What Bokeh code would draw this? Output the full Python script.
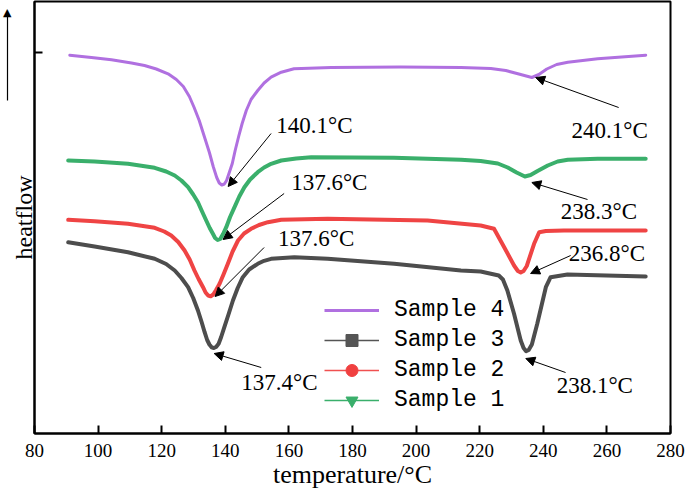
from bokeh.plotting import figure
from bokeh.models import (Range1d, FixedTicker, Legend, LegendItem, Label, Arrow,
                          NormalHead, LinearAxis)
from bokeh.embed import file_html
from bokeh.resources import INLINE

# ---------------- data (temperature in °C, heat flow in arbitrary units) ----------------
s4_t = [91.1, 97.9, 104.2, 110.5, 114.6, 118.3, 122.0, 124.6, 126.8, 128.7, 130.2, 131.8,
        133.4, 135.0, 136.2, 137.3, 138.1, 138.9, 139.7, 140.4, 141.2, 142.2, 143.1, 144.2,
        145.3, 146.6, 148.1, 150.2, 152.2, 154.4, 157.6, 161.6, 173.3, 195.2, 214.1, 223.5,
        228.2, 232.3, 236.4, 238.6, 241.1, 244.2, 247.7, 257.1, 272.2]
s4_h = [37.73, 37.50, 37.27, 36.95, 36.70, 36.35, 35.87, 35.30, 34.60, 33.60, 32.50, 31.20,
        29.60, 28.00, 26.60, 25.50, 24.95, 24.75, 24.85, 25.20, 25.95, 26.90, 28.20, 29.60,
        30.90, 32.20, 33.30, 34.20, 34.95, 35.53, 36.03, 36.37, 36.50, 36.55, 36.50, 36.40,
        36.20, 35.85, 35.50, 35.80, 36.35, 36.80, 37.03, 37.37, 37.73]

s3_t = [90.6, 98.9, 109.4, 117.8, 121.4, 124.1, 126.2, 128.3, 129.9, 131.4, 132.6, 133.5,
        134.3, 135.0, 135.7, 136.4, 137.1, 137.9, 138.7, 139.7, 141.1, 142.4, 143.9, 145.5,
        147.5, 150.2, 152.2, 154.4, 161.7, 172.2, 193.1, 214.1, 220.3, 226.0, 227.3, 228.7,
        230.8, 232.9, 233.8, 234.6, 235.4, 236.4, 238.1, 240.8, 242.3, 247.6, 272.2]
s3_h = [19.03, 18.60, 18.03, 17.37, 16.85, 16.20, 15.45, 14.53, 13.45, 12.20, 11.00, 10.03,
        9.25, 8.80, 8.52, 8.45, 8.55, 8.87, 9.55, 10.53, 11.90, 13.20, 14.45, 15.53,
        16.30, 16.87, 17.17, 17.37, 17.53, 17.37, 16.87, 16.20, 16.10, 15.70, 15.30, 14.20,
        11.87, 9.20, 8.45, 8.13, 8.25, 8.80, 10.87, 14.53, 15.53, 15.80, 15.60]

s2_t = [90.6, 98.9, 109.4, 117.8, 120.8, 123.0, 125.2, 127.2, 128.8, 130.3, 131.6, 133.0,
        133.8, 134.6, 135.4, 136.2, 137.1, 138.2, 139.5, 140.8, 142.3, 144.0, 145.9, 148.1,
        150.6, 153.4, 157.6, 172.2, 203.6, 220.3, 224.5, 227.7, 230.8, 232.0, 232.9, 233.8,
        234.8, 237.1, 238.7, 240.8, 246.5, 272.2]
s2_h = [21.27, 21.13, 20.87, 20.47, 20.10, 19.70, 19.05, 18.20, 17.30, 16.20, 15.35, 14.53,
        14.00, 13.70, 13.62, 13.80, 14.25, 14.87, 15.85, 16.87, 18.10, 19.20, 19.90, 20.37,
        20.75, 21.03, 21.27, 21.37, 21.20, 20.70, 20.37, 18.53, 16.70, 16.15, 16.00, 16.15,
        16.65, 18.87, 20.03, 20.15, 20.20, 20.20]

s1_t = [90.6, 98.9, 109.4, 117.8, 121.4, 124.1, 126.2, 128.3, 129.9, 131.4, 132.7, 134.0,
        135.1, 136.1, 136.8, 137.6, 138.4, 139.3, 140.3, 141.5, 142.9, 144.4, 146.0, 147.8,
        150.2, 152.2, 154.4, 157.6, 162.3, 167.0, 193.0, 214.1, 220.3, 225.7, 228.8, 231.6,
        234.2, 236.0, 238.2, 241.4, 244.5, 247.7, 257.1, 272.2]
s1_h = [27.20, 27.10, 26.87, 26.47, 26.10, 25.70, 25.20, 24.53, 23.80, 23.03, 22.10, 21.20,
        20.45, 19.87, 19.45, 19.25, 19.35, 19.85, 20.53, 21.55, 22.53, 23.60, 24.53, 25.30,
        26.03, 26.50, 26.87, 27.20, 27.40, 27.53, 27.47, 27.27, 27.15, 26.90, 26.50, 26.00,
        25.60, 25.75, 26.15, 26.70, 27.10, 27.27, 27.37, 27.37]

x_ticks = [80, 100, 120, 140, 160, 180, 200, 220, 240, 260, 280]
y_ticks = [38]

# peak annotations: text, text position, arrow start, arrow end
ann_text = ["240.1°C", "238.3°C", "236.8°C", "238.1°C", "140.1°C", "137.6°C", "137.6°C", "137.4°C"]
ann_tx = [248.9, 245.5, 248.0, 244.2, 156.0, 160.7, 156.6, 145.0]
ann_ty = [30.2, 22.1, 17.9, 4.7, 30.7, 25.0, 19.4, 5.0]
arr_x0 = [263.7, 253.9, 248.6, 247.0, 154.4, 158.5, 152.2, 151.3]
arr_y0 = [32.5, 23.3, 17.7, 6.0, 29.9, 23.9, 18.5, 6.5]
arr_x1 = [237.6, 236.4, 236.0, 234.5, 140.9, 139.3, 136.8, 136.5]
arr_y1 = [35.5, 25.0, 15.9, 7.4, 24.6, 19.3, 13.6, 7.9]

# heat-flow direction arrow (shaft bottom, shaft top, head position on the heat-flow scale)
hf_arrow = (33.2, 41.6, 42.0)

c4, c3, c2, c1 = "#B070E0", "#4D4D4D", "#EF4444", "#3AAF6B"

# ---------------- figure ----------------
p = figure(width=685, height=494, output_backend="svg", toolbar_location=None,
           x_range=Range1d(80, 280), y_range=Range1d(-0.1, 43.1),
           min_border_left=33, min_border_right=15, min_border_top=1, min_border_bottom=61)
p.grid.visible = False
p.outline_line_color = "black"
p.outline_line_width = 2
p.background_fill_color = "white"

for t, h, c, w in ((s4_t, s4_h, c4, 3), (s3_t, s3_h, c3, 4), (s2_t, s2_h, c2, 4), (s1_t, s1_h, c1, 4)):
    p.line(t, h, line_color=c, line_width=w, line_join="round", line_cap="round")

# axes
xa = p.xaxis[0]
xa.ticker = FixedTicker(ticks=x_ticks)
xa.major_label_text_font = "Liberation Serif"
xa.major_label_text_font_size = "19px"
xa.major_label_standoff = 10
xa.axis_label = "temperature/°C"
xa.axis_label_text_font = "Liberation Serif"
xa.axis_label_text_font_style = "normal"
xa.axis_label_text_font_size = "26px"
xa.axis_label_standoff = 0
ya = p.yaxis[0]
ya.ticker = FixedTicker(ticks=y_ticks)
ya.major_label_overrides = {38: ""}
ya.major_label_standoff = 0
ya.axis_label = "heatflow"
ya.axis_label_text_font = "Liberation Serif"
ya.axis_label_text_font_style = "normal"
ya.axis_label_text_font_size = "24px"
ya.axis_label_standoff = -2
for ax in (xa, ya):
    ax.axis_line_width = 2
    ax.major_tick_line_width = 2
    ax.major_tick_in = 8
    ax.major_tick_out = 0
    ax.minor_tick_line_color = None
    ax.major_label_text_color = "black"
    ax.axis_label_text_color = "black"

# outer left axis drawn as the heat-flow arrow: line = shaft, tick label = head
shaft = LinearAxis(ticker=FixedTicker(ticks=[hf_arrow[2]]), bounds=(hf_arrow[0], hf_arrow[1]),
                   axis_line_width=1.2, axis_line_color="black",
                   major_tick_line_color=None, minor_tick_line_color=None,
                   major_tick_in=0, major_tick_out=0,
                   major_label_overrides={42: "▲"},
                   major_label_text_font="DejaVu Sans", major_label_text_font_size="11px",
                   major_label_text_color="black", major_label_standoff=-4)
p.add_layout(shaft, "left")

# peak annotations
for t, tx, ty, x0, y0, x1, y1 in zip(ann_text, ann_tx, ann_ty, arr_x0, arr_y0, arr_x1, arr_y1):
    p.add_layout(Arrow(end=NormalHead(size=9, fill_color="black", line_color="black"),
                       x_start=x0, y_start=y0, x_end=x1, y_end=y1,
                       line_color="black", line_width=1))
    p.add_layout(Label(x=tx, y=ty, text=t, text_font="Liberation Serif", text_font_size="23px",
                       text_align="left", text_baseline="middle", text_color="black"))

# legend glyphs (thin lines with markers, hidden from the plot area)
l4 = p.line(s4_t, s4_h, line_color=c4, line_width=3, visible=False)
l3 = p.line(s3_t, s3_h, line_color="#555555", line_width=1.5, visible=False)
m3 = p.scatter(s3_t, s3_h, marker="square", size=7, fill_color="#555555", line_color="#555555", visible=False)
l2 = p.line(s2_t, s2_h, line_color="#F05050", line_width=1.5, visible=False)
m2 = p.scatter(s2_t, s2_h, marker="circle", size=7, fill_color="#F04040", line_color="#F04040", visible=False)
l1 = p.line(s1_t, s1_h, line_color=c1, line_width=1.5, visible=False)
m1 = p.scatter(s1_t, s1_h, marker="inverted_triangle", size=8, fill_color=c1, line_color=c1, visible=False)

legend = Legend(items=[LegendItem(label="Sample 4", renderers=[l4]),
                       LegendItem(label="Sample 3", renderers=[l3, m3]),
                       LegendItem(label="Sample 2", renderers=[l2, m2]),
                       LegendItem(label="Sample 1", renderers=[l1, m1])],
                location=(290, 18), glyph_width=55, glyph_height=30, label_height=30,
                label_standoff=15, spacing=0, padding=0, margin=0,
                border_line_color=None, background_fill_alpha=0,
                inactive_fill_alpha=0,
                label_text_font="Liberation Mono", label_text_font_size="23px",
                label_text_color="black")
p.add_layout(legend)

open("out.html", "w").write(file_html(p, INLINE))
